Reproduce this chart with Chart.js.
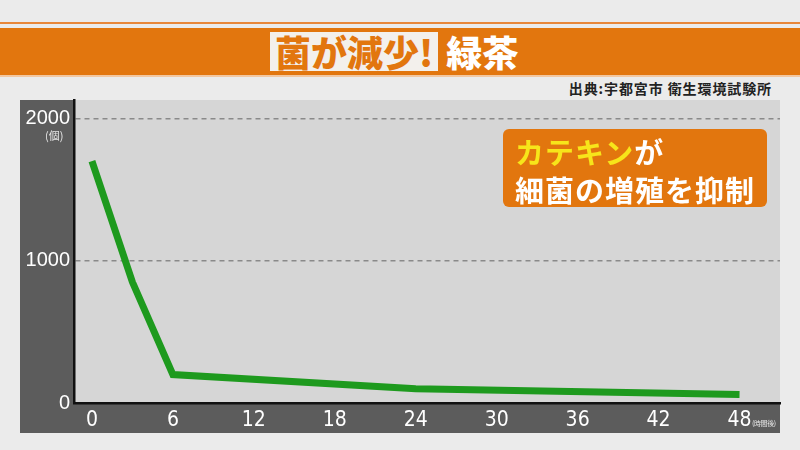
<!DOCTYPE html>
<html lang="ja">
<head>
<meta charset="utf-8">
<script src="https://cdn.jsdelivr.net/npm/chart.js@4.4.1/dist/chart.umd.min.js"></script>
<style>
  html, body { margin: 0; padding: 0; }
  body {
    width: 800px; height: 450px; overflow: hidden; position: relative;
    background: #ebebeb;
    font-family: "Noto Sans CJK JP", "Noto Sans", sans-serif;
  }
  #topline { position: absolute; left: 0; top: 22px; width: 800px; height: 2px; background: #e8873a; }
  #banner {
    position: absolute; left: 0; top: 28px; width: 800px; height: 47px;
    background: #e2760e; border-bottom: 2px solid #f2c7a0;
  }
  #title {
    position: absolute; left: 270px; top: 0; height: 47px;
    display: flex; align-items: center; font-weight: 900; font-size: 36px;
  }
  #title .boxed {
    background: #f3f0ec; color: #e2760e; padding: 0 5px;
    height: 39px; line-height: 39px;
  }
  #title .plain { color: #fff; margin-left: 8px; line-height: 39px; }
  #source {
    position: absolute; right: 28px; top: 79px; font-size: 14px; font-weight: 700;
    color: #222; line-height: 18px; letter-spacing: 0.9px;
  }
  #chart { position: absolute; left: 0; top: 0; }
  #unitY { position: absolute; left: 45px; top: 127px; font-size: 11px; color: #e6e6e6; }
  #unitX {
    position: absolute; left: 752px; top: 418px; font-size: 7px; color: #e6e6e6;
    letter-spacing: -0.4px;
  }
  #note {
    position: absolute; left: 503px; top: 129px; width: 252px; height: 75px;
    padding: 3px 0 0 12px; background: #e2760e; border-radius: 6px;
    font-size: 29px; font-weight: 700; line-height: 38px; color: #fff; letter-spacing: 1px;
  }
  #note .hl { color: #f7e51a; }
</style>
</head>
<body>
<div id="topline"></div>
<div id="banner">
  <div id="title"><span class="boxed">菌が減少!</span><span class="plain">緑茶</span></div>
</div>
<div id="source">出典:宇都宮市 衛生環境試験所</div>
<canvas id="chart" width="800" height="450"></canvas>
<div id="unitY">(個)</div>
<div id="unitX">(時間後)</div>
<div id="note"><span class="hl">カテキン</span>が<br>細菌の増殖を抑制</div>

<script>
// hours after start, bacteria count
const hours = [0, 3, 6, 24, 48];
const counts = [1700, 850, 200, 100, 60];
const hourTicks = [0, 6, 12, 18, 24, 30, 36, 42, 48];
const countTicks = [0, 1000, 2000];

const panelBg = {
  id: "panelBg",
  beforeDraw(chart) {
    const { ctx, chartArea } = chart;
    ctx.save();
    ctx.fillStyle = "#5c5c5c";
    ctx.fillRect(20, chartArea.top, chartArea.right - 20, 433 - chartArea.top);
    ctx.fillStyle = "#d6d6d6";
    ctx.fillRect(chartArea.left, chartArea.top, chartArea.right - chartArea.left, chartArea.bottom - chartArea.top);
    ctx.restore();
  }
};

new Chart(document.getElementById("chart").getContext("2d"), {
  type: "line",
  data: {
    datasets: [{
      data: hours.map((h, i) => ({ x: h, y: counts[i] })),
      borderColor: "#1e9a1e",
      borderWidth: 7,
      pointRadius: 0,
      tension: 0,
      fill: false
    }]
  },
  options: {
    responsive: false,
    animation: false,
    layout: { padding: { left: 20, right: 20, top: 100, bottom: 16 } },
    plugins: { legend: { display: false }, tooltip: { enabled: false } },
    scales: {
      x: {
        type: "linear",
        min: -1.33,
        max: 51,
        afterBuildTicks: (s) => { s.ticks = hourTicks.map((v) => ({ value: v })); },
        afterFit: (s) => { s.height = 31; },
        grid: { display: false, drawTicks: false },
        border: { display: true, color: "#111", width: 2.5 },
        ticks: {
          color: "#fff",
          padding: 5,
          maxRotation: 0,
          autoSkip: false,
          callback: (v) => String(v),
          font: { family: '"Liberation Sans Narrow", "DejaVu Sans Condensed", sans-serif', size: 21 }
        }
      },
      y: {
        min: 0,
        max: 2130,
        afterBuildTicks: (s) => { s.ticks = countTicks.map((v) => ({ value: v })); },
        afterFit: (s) => { s.width = 54; },
        grid: {
          drawTicks: false,
          lineWidth: 1.5,
          color: (c) => (c.tick && c.tick.value === 0 ? "rgba(0,0,0,0)" : "#8a8a8a")
        },
        border: { color: "#111", width: 2.5, dash: [5, 4] },
        ticks: {
          color: "#fff",
          padding: 4,
          callback: (v) => String(v),
          font: { family: '"Liberation Sans", sans-serif', size: 20 }
        }
      }
    }
  },
  plugins: [panelBg]
});
</script>
</body>
</html>
